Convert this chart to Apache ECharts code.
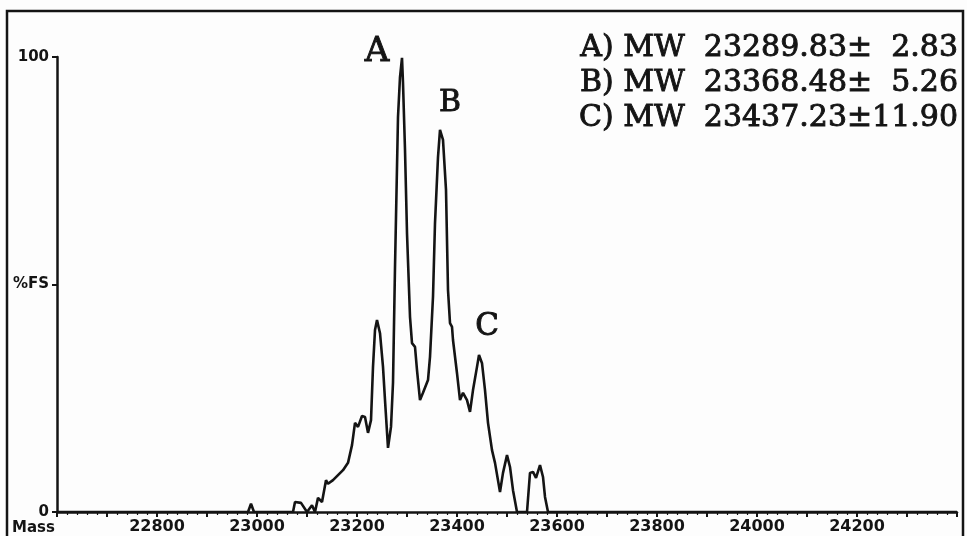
<!DOCTYPE html>
<html>
<head>
<meta charset="utf-8">
<script src="https://cdn.jsdelivr.net/npm/echarts@6/dist/echarts.min.js"></script>
<style>
html,body{margin:0;padding:0;background:#fdfdfd;}
#c{width:967px;height:536px;}
</style>
</head>
<body>
<div id="c"></div>
<script>
// Mass (Da) and intensity (%FS)
var masses = [22600, 22982, 22988, 22994, 23072, 23076, 23088, 23100, 23110, 23116,
  23122, 23130, 23138, 23142, 23152, 23162, 23172, 23182, 23190, 23196,
  23202, 23210, 23216, 23222, 23228, 23232, 23236, 23240, 23246, 23252,
  23256, 23262, 23268, 23272, 23276, 23282, 23286, 23290, 23292, 23296,
  23300, 23306, 23310, 23316, 23320, 23326, 23332, 23342, 23346, 23352,
  23356, 23362, 23366, 23370, 23372, 23378, 23382, 23386, 23390, 23392,
  23400, 23406, 23412, 23420, 23426, 23432, 23440, 23444, 23450, 23456,
  23462, 23470, 23476, 23486, 23492, 23500, 23506, 23512, 23520, 23540,
  23546, 23552, 23558, 23566, 23572, 23576, 23582, 24400];
var intensity = [0, 0, 1.8, 0, 0, 2.2, 2.0, 0, 1.5, 0,
  3.1, 2.2, 7.0, 6.2, 7.0, 8.1, 9.2, 10.8, 14.7, 19.6,
  18.7, 21.1, 20.9, 17.4, 20.2, 31.9, 40.0, 42.2, 39.3, 31.9,
  24.6, 14.1, 18.7, 28.4, 53.8, 86.8, 95.6, 99.8, 94.3, 79.6,
  61.3, 42.9, 37.1, 36.3, 31.2, 24.6, 26.2, 29.0, 34.1, 47.3,
  63.5, 78.0, 84.0, 84.4, 81.8, 70.8, 48.8, 41.5, 40.7, 37.8,
  30.5, 24.6, 26.2, 24.6, 22.0, 26.8, 31.9, 34.5, 32.7, 26.8,
  19.6, 13.6, 10.8, 4.4, 8.6, 12.5, 9.9, 4.8, 0, 0,
  8.6, 8.8, 7.5, 10.3, 7.7, 3.3, 0, 0];
var yTickLabels = {0: '0', 50: '%FS', 100: '100'};
var peakLabels = ['A', 'B', 'C'];
var mwLines = [
  'A) MW  23289.83\u00b1  2.83',
  'B) MW  23368.48\u00b1  5.26',
  'C) MW  23437.23\u00b111.90'
];

var seriesData = masses.map(function (m, i) { return [m, intensity[i]]; });
var ink = '#141414';
var tickFont = {fontFamily: 'DejaVu Sans', fontWeight: 'bold', fontSize: 16, color: ink};

function serifText(txt, x, y, size, align) {
  return {type: 'text', x: x, y: y, silent: true,
    style: {text: txt, fontFamily: 'DejaVu Serif', fontSize: size, fill: ink,
      stroke: ink, lineWidth: 0.9,
      textAlign: align, textVerticalAlign: 'middle'}};
}

var chart = echarts.init(document.getElementById('c'));
chart.setOption({
  backgroundColor: '#fdfdfd',
  animation: false,
  grid: {left: 57, right: 10, top: 57, bottom: 24, outerBoundsMode: 'none'},
  xAxis: {
    type: 'value', min: 22600, max: 24400, interval: 100,
    axisLine: {lineStyle: {color: ink, width: 2.5}},
    axisTick: {show: true, length: 5, lineStyle: {color: ink, width: 2}},
    minorTick: {show: true, splitNumber: 5, length: 3, lineStyle: {color: ink, width: 1.2}},
    splitLine: {show: false},
    axisLabel: Object.assign({
      margin: 7,
      showMinLabel: true, showMaxLabel: true,
      formatter: function (v) {
        return (v % 200 === 0 && v > 22600 && v < 24400) ? String(v) : '';
      }
    }, tickFont)
  },
  yAxis: {
    type: 'value', min: 0, max: 100, interval: 50,
    axisLine: {show: true, lineStyle: {color: ink, width: 2.5}},
    axisTick: {show: true, length: 5, lineStyle: {color: ink, width: 2}},
    splitLine: {show: false},
    axisLabel: Object.assign({
      margin: 8,
      formatter: function (v) { return yTickLabels[v] !== undefined ? yTickLabels[v] : ''; }
    }, tickFont, {fontSize: 15})
  },
  series: [{
    type: 'line',
    data: seriesData,
    symbol: 'none',
    lineStyle: {color: ink, width: 2.6},
    z: 3
  }],
  graphic: [
    {type: 'rect', shape: {x: 7, y: 11, width: 956, height: 540},
      style: {fill: 'none', stroke: ink, lineWidth: 2.5}, silent: true},
    {type: 'text', x: 12, y: 528, silent: true,
      style: {text: 'Mass', fontFamily: 'DejaVu Sans', fontWeight: 'bold', fontSize: 15,
        fill: ink, textVerticalAlign: 'middle'}},
    serifText(peakLabels[0], 377, 52, 34, 'center'),
    serifText(peakLabels[1], 450, 103, 30, 'center'),
    serifText(peakLabels[2], 487, 327, 31, 'center'),
    serifText(mwLines[0], 958, 48, 30, 'right'),
    serifText(mwLines[1], 958, 83, 30, 'right'),
    serifText(mwLines[2], 958, 118, 30, 'right')
  ]
});
</script>
</body>
</html>
